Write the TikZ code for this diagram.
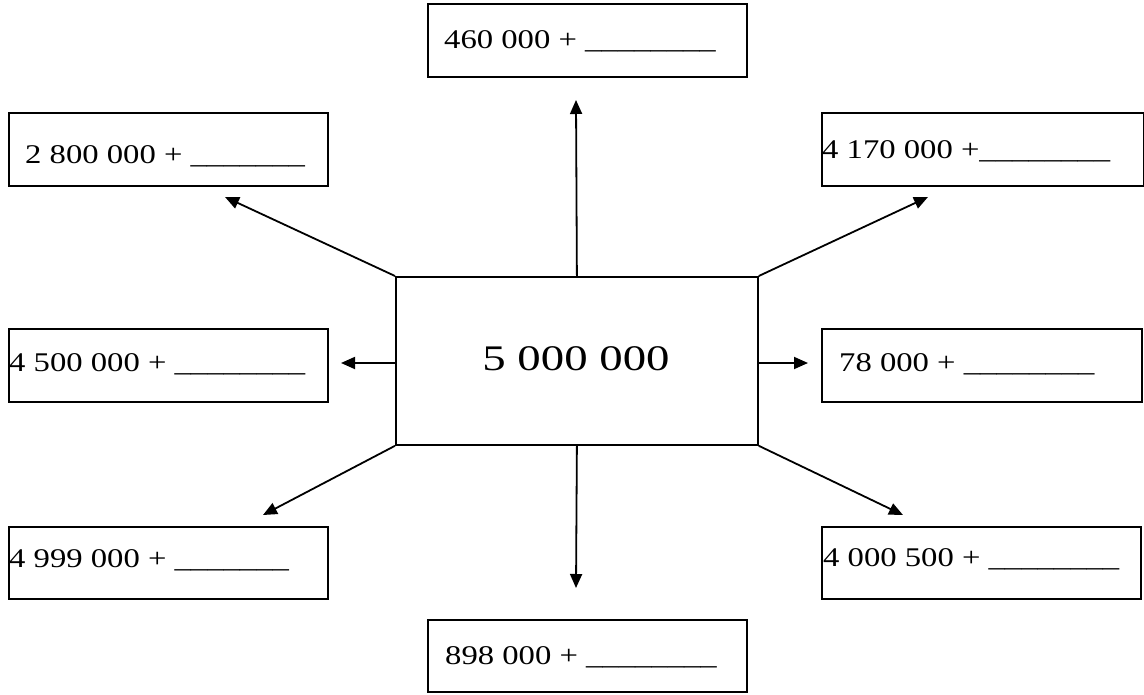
\documentclass[tikz,border=0pt]{standalone}
\usepackage{fontspec}
\setmainfont{Liberation Serif}
\newfontfamily\smallfam[FakeStretch=1.21]{Liberation Serif}
\newfontfamily\bigfam[FakeStretch=1.3]{Liberation Serif}
\usetikzlibrary{arrows.meta}
\begin{document}
\begin{tikzpicture}[x=1pt,y=-1pt,
  boxstyle/.style={draw,line width=1.8pt,rectangle,inner sep=0pt,anchor=north west},
  lbl/.style={anchor=base west,inner sep=0pt,font=\smallfam\fontsize{27}{30}\selectfont},
  arr/.style={line width=1.8pt,-{Triangle[length=14pt,width=12pt]}}]
\useasboundingbox (0,0) rectangle (1144,695);
% centre
\node[boxstyle,minimum width=362pt,minimum height=168pt] (c) at (395,276) {};
\node[anchor=base,inner sep=0pt,font=\bigfam\fontsize{36}{40}\selectfont] (ct) at (576,370) {5 000 000};
% boxes
\node[boxstyle,minimum width=319pt,minimum height=73pt] (bt) at (427,3) {};
\node[lbl] (tt) at (444,49) {460 000 + \_\_\_\_\_\_\_\_};
\node[boxstyle,minimum width=319pt,minimum height=73pt] (btl) at (8,112) {};
\node[lbl] (ttl) at (25,164) {2 800 000 + \_\_\_\_\_\_\_};
\node[boxstyle,minimum width=322pt,minimum height=73pt] (btr) at (821,112) {};
\node[lbl] (ttr) at (822,159) {4 170 000 +\_\_\_\_\_\_\_\_};
\node[boxstyle,minimum width=319pt,minimum height=73pt] (bl) at (8,328) {};
\node[lbl] (tl) at (9,371) {4 500 000 + \_\_\_\_\_\_\_\_};
\node[boxstyle,minimum width=320pt,minimum height=73pt] (br) at (821,328) {};
\node[lbl] (tr) at (839,371) {78 000 + \_\_\_\_\_\_\_\_};
\node[boxstyle,minimum width=319pt,minimum height=72pt] (bbl) at (8,526) {};
\node[lbl] (tbl) at (9,567) {4 999 000 + \_\_\_\_\_\_\_};
\node[boxstyle,minimum width=319pt,minimum height=72pt] (bbr) at (821,526) {};
\node[lbl] (tbr) at (823,566) {4 000 500 + \_\_\_\_\_\_\_\_};
\node[boxstyle,minimum width=319pt,minimum height=72pt] (bb) at (427,619) {};
\node[lbl] (tb) at (445,664) {898 000 + \_\_\_\_\_\_\_\_};
% arrow tips
\coordinate (pt) at (576,100);
\coordinate (ptl) at (225,197);
\coordinate (ptr) at (928,197);
\coordinate (pl) at (341,363);
\coordinate (pr) at (808,363);
\coordinate (pbl) at (263,515);
\coordinate (pbr) at (903,515);
\coordinate (pb) at (576,588);
% connectors
\draw[arr] (c.north) -- (pt);
\draw[arr] (c.north west) -- (ptl);
\draw[arr] (c.north east) -- (ptr);
\draw[arr] (c.west |- pl) -- (pl);
\draw[arr] (c.east |- pr) -- (pr);
\draw[arr] (c.south west) -- (pbl);
\draw[arr] (c.south east) -- (pbr);
\draw[arr] (c.south) -- (pb);
\end{tikzpicture}
\end{document}
